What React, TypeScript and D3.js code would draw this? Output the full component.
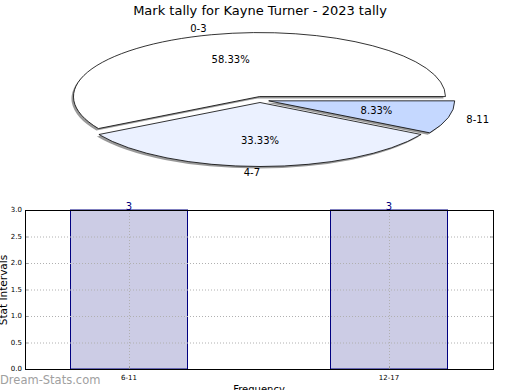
import * as d3 from "d3";
import { useRef, useEffect } from "react";

const title = "Mark tally for Kayne Turner - 2023 tally";

// pie data
const pieLabels = ["0-3", "4-7", "8-11"];
const pieValues = [7, 4, 1];
const pieColors = ["#ffffff", "#ebf1ff", "#c5d8ff"];
const pieExplode = [2, 4, 9];

// bar data
const barCategories = ["6-11", "12-17"];
const barValues = [3, 3];
const yTicks = [0, 0.5, 1, 1.5, 2, 2.5, 3];

const W = 520;
const H = 390;

const App = () => {
	const chartRef = useRef(null);

	useEffect(() => {
		document.body.style.margin = "0";
		const svg = d3.select(chartRef.current);
		svg.selectAll("*").remove();
		const font = "DejaVu Sans, sans-serif";

		svg.append("text")
			.attr("x", 260)
			.attr("y", 15)
			.attr("text-anchor", "middle")
			.style("font-family", font)
			.style("font-size", "13px")
			.text(title);

		// ---- pie ----
		const cx = 260, cy = 98.5, rx = 186, ry = 64;
		const total = d3.sum(pieValues);
		const arcs = d3.pie<number>()
			.sort(null)
			.startAngle(Math.PI / 2)
			.endAngle(Math.PI / 2 - 2 * Math.PI)(pieValues);

		const slicePath = (a0, a1, ox, oy) => {
			const x0 = ox + rx * Math.sin(a0), y0 = oy - ry * Math.cos(a0);
			const x1 = ox + rx * Math.sin(a1), y1 = oy - ry * Math.cos(a1);
			const large = Math.abs(a1 - a0) > Math.PI ? 1 : 0;
			const sweep = a1 < a0 ? 0 : 1;
			return `M${ox},${oy}L${x0},${y0}A${rx},${ry} 0 ${large} ${sweep} ${x1},${y1}Z`;
		};

		const slices = arcs.map((a, i) => {
			const mid = (a.startAngle + a.endAngle) / 2;
			const ox = cx + pieExplode[i] * Math.sin(mid);
			const oy = cy - pieExplode[i] * Math.cos(mid);
			return { a, i, mid, ox, oy };
		});

		const pieG = svg.append("g");
		pieG.selectAll(".shadow")
			.data(slices)
			.enter()
			.append("path")
			.attr("d", d => slicePath(d.a.startAngle, d.a.endAngle, d.ox - 2, d.oy + 2))
			.style("fill", "#7f7f7f")
			.style("opacity", 0.8);

		pieG.selectAll(".slice")
			.data(slices)
			.enter()
			.append("path")
			.attr("d", d => slicePath(d.a.startAngle, d.a.endAngle, d.ox, d.oy))
			.style("fill", d => pieColors[d.i])
			.style("stroke", "#000")
			.style("stroke-width", 0.8)
			.style("stroke-linejoin", "round");

		pieG.selectAll(".label")
			.data(slices)
			.enter()
			.append("text")
			.attr("x", d => d.ox + 1.1 * rx * Math.sin(d.mid))
			.attr("y", d => d.oy - 1.1 * ry * Math.cos(d.mid))
			.attr("text-anchor", d => Math.sin(d.mid) < 0 ? "end" : "start")
			.attr("dominant-baseline", "central")
			.style("font-family", font)
			.style("font-size", "10px")
			.text(d => pieLabels[d.i]);

		pieG.selectAll(".pct")
			.data(slices)
			.enter()
			.append("text")
			.attr("x", d => d.ox + 0.6 * rx * Math.sin(d.mid))
			.attr("y", d => d.oy - 0.6 * ry * Math.cos(d.mid))
			.attr("text-anchor", "middle")
			.attr("dominant-baseline", "central")
			.style("font-family", font)
			.style("font-size", "10px")
			.text(d => (pieValues[d.i] / total * 100).toFixed(2) + "%");

		// ---- bars ----
		const margin = { left: 25, right: 493, top: 210, bottom: 369 };
		const x = d3.scaleLinear().domain([-0.4, 1.4]).range([margin.left, margin.right]);
		const y = d3.scaleLinear().domain([0, 3]).range([margin.bottom, margin.top]);
		const barW = 0.45;

		const grid = svg.append("g")
			.style("stroke", "#b0b0b0")
			.style("stroke-width", 1)
			.style("stroke-dasharray", "1,2");
		yTicks.slice(1, -1).forEach(t => {
			grid.append("line")
				.attr("x1", margin.left).attr("x2", margin.right)
				.attr("y1", y(t) + 0.5).attr("y2", y(t) + 0.5);
		});

		svg.selectAll(".bar")
			.data(barValues)
			.enter()
			.append("rect")
			.attr("x", (d, i) => x(i - barW / 2))
			.attr("y", d => y(d))
			.attr("width", x(barW) - x(0))
			.attr("height", d => y(0) - y(d))
			.style("fill", "#ccccE5")
			.style("stroke", "#000080")
			.style("stroke-width", 1);

		barCategories.forEach((c, i) => {
			grid.append("line")
				.attr("x1", x(i) + 0.5).attr("x2", x(i) + 0.5)
				.attr("y1", margin.top).attr("y2", margin.bottom);
		});
		grid.raise();

		svg.selectAll(".val")
			.data(barValues)
			.enter()
			.append("text")
			.attr("x", (d, i) => x(i))
			.attr("y", d => y(d) - 0.5)
			.attr("text-anchor", "middle")
			.style("font-family", font)
			.style("font-size", "10px")
			.style("fill", "#000080")
			.text(d => d);

		// ticks
		const ticks = svg.append("g").style("stroke", "#999").style("stroke-width", 1);
		yTicks.forEach(t => {
			ticks.append("line").attr("x1", margin.left).attr("x2", margin.left + 3)
				.attr("y1", y(t) + 0.5).attr("y2", y(t) + 0.5);
			ticks.append("line").attr("x1", margin.right - 3).attr("x2", margin.right)
				.attr("y1", y(t) + 0.5).attr("y2", y(t) + 0.5);
		});
		barCategories.forEach((c, i) => {
			ticks.append("line").attr("x1", x(i) + 0.5).attr("x2", x(i) + 0.5)
				.attr("y1", margin.bottom).attr("y2", margin.bottom - 3);
		});

		svg.append("rect")
			.attr("x", margin.left + 0.5)
			.attr("y", margin.top + 0.5)
			.attr("width", margin.right - margin.left)
			.attr("height", margin.bottom - margin.top)
			.style("fill", "none")
			.style("stroke", "#000")
			.style("stroke-width", 1);

		svg.selectAll(".ytick")
			.data(yTicks)
			.enter()
			.append("text")
			.attr("x", margin.left - 3)
			.attr("y", d => y(d))
			.attr("text-anchor", "end")
			.attr("dominant-baseline", "central")
			.style("font-family", font)
			.style("font-size", "7px")
			.text(d => d.toFixed(1));

		svg.selectAll(".xtick")
			.data(barCategories)
			.enter()
			.append("text")
			.attr("x", (d, i) => x(i))
			.attr("y", margin.bottom + 11)
			.attr("text-anchor", "middle")
			.style("font-family", font)
			.style("font-size", "7px")
			.text(d => d);

		svg.append("text")
			.attr("transform", "translate(6.5, 290) rotate(-90)")
			.attr("text-anchor", "middle")
			.style("font-family", font)
			.style("font-size", "10.5px")
			.text("Stat Intervals");

		svg.append("text")
			.attr("x", 259)
			.attr("y", 393)
			.attr("text-anchor", "middle")
			.style("font-family", font)
			.style("font-size", "10px")
			.text("Frequency");

		svg.append("text")
			.attr("x", 0)
			.attr("y", 384)
			.style("font-family", font)
			.style("font-size", "11.5px")
			.style("fill", "#a0a0a0")
			.text("Dream-Stats.com");
	}, []);

	return (
		<svg ref={chartRef} width={W} height={H} style={{ display: "block", background: "#fff" }}></svg>
	);
};

export default App;
